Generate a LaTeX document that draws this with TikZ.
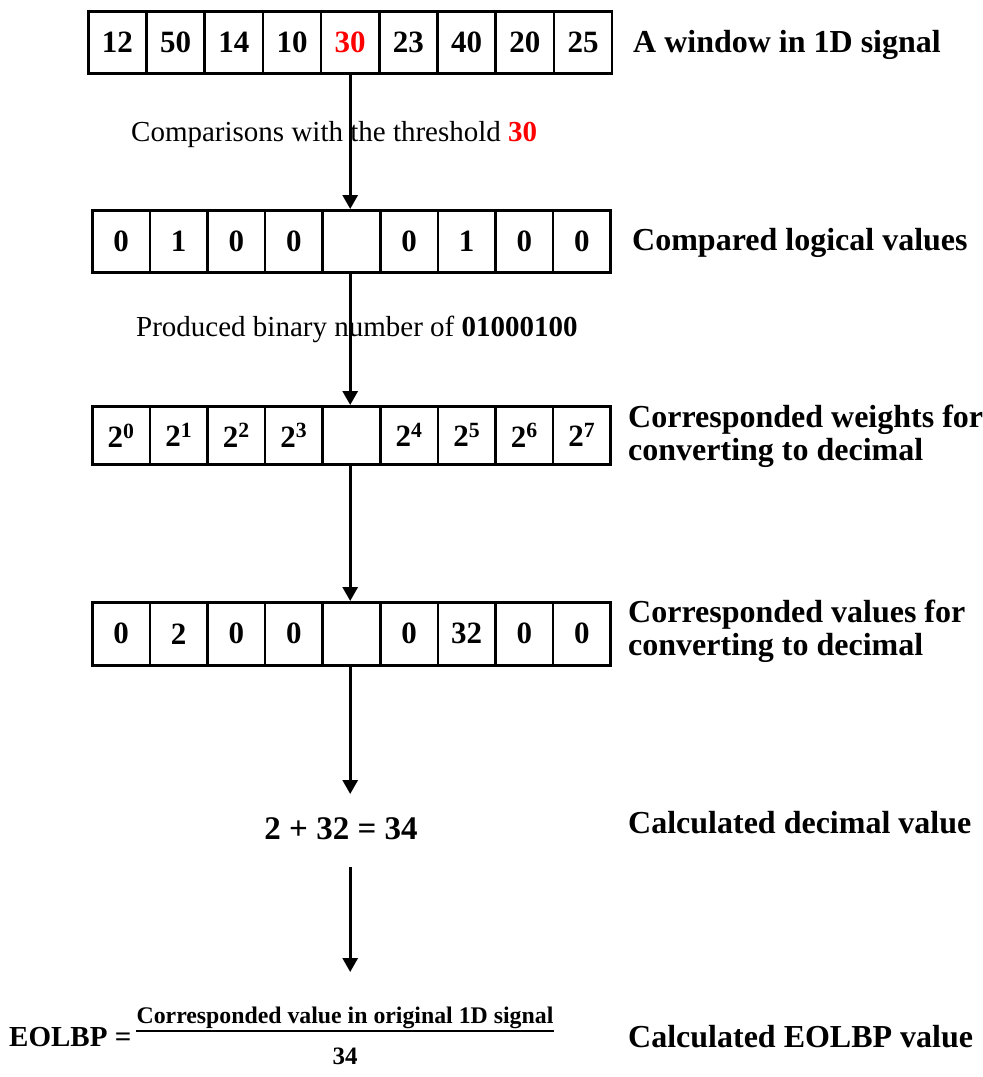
\documentclass[tikz,border=0pt]{standalone}
\usepackage{fontspec}
\setmainfont{Liberation Serif}
\usetikzlibrary{arrows.meta}
\definecolor{tred}{RGB}{255,0,0}
\begin{document}
\begin{tikzpicture}[x=1pt,y=-1pt,
  cell/.style={draw, line width=2.6pt, minimum width=58.2pt, minimum height=62pt, inner sep=0pt, anchor=north west, font=\fontsize{31}{36}\selectfont\bfseries},
  flow/.style={line width=3pt, -{Triangle[width=15pt,length=14pt]}},
  lab/.style={anchor=west, inner sep=0pt, align=left, font=\fontsize{32}{33}\selectfont\bfseries},
  mid/.style={anchor=west, inner sep=0pt, font=\fontsize{29}{34}\selectfont}]
\useasboundingbox (0,0) rectangle (983,1077);
% row 1
\foreach \v [count=\i] in {12,50,14,10,{\textcolor{tred}{30}},23,40,20,25}
  \node[cell] (a\i) at ({87+(\i-1)*58.2},10) {\v};
% row 2
\foreach \v [count=\i] in {0,1,0,0,{},0,1,0,0}
  \node[cell, minimum width=57.6pt] (b\i) at ({91+(\i-1)*57.6},209) {\v};
% row 3
\foreach \v [count=\i] in {2\textsuperscript{0},2\textsuperscript{1},2\textsuperscript{2},2\textsuperscript{3},{},2\textsuperscript{4},2\textsuperscript{5},2\textsuperscript{6},2\textsuperscript{7}}
  \node[cell, minimum width=57.6pt, minimum height=58pt] (c\i) at ({91+(\i-1)*57.6},405) {\v};
% row 4
\foreach \v [count=\i] in {0,2,0,0,{},0,32,0,0}
  \node[cell, minimum width=57.6pt, minimum height=63pt] (d\i) at ({91+(\i-1)*57.6},601) {\v};

% labels
\node[lab] (la) at (633,45) {A window in 1D signal};
\node[lab] (lb) at (632,243) {Compared logical values};
\node[lab] (lc) at (628,436) {Corresponded weights for\\converting to decimal};
\node[lab] (ld) at (628,631) {Corresponded values for\\converting to decimal};
\node[lab] (le) at (628,823) {Calculated decimal value};
\node[lab] (lf) at (628,1037) {Calculated EOLBP value};

% middle texts
\node[mid] (t1) at (131,135) {Comparisons with the threshold \textbf{\textcolor{tred}{30}}};
\node[mid] (t2) at (136,329) {Produced binary number of \textbf{01000100}};

% sum
\node[font=\fontsize{33}{36}\selectfont\bfseries, inner sep=2pt] (sum) at (341,829) {2 + 32 = 34};
\coordinate (s1) at (349,794);
\coordinate (s2) at (349,867);
\coordinate (s3) at (349,972);

% formula
\node[anchor=west, inner sep=0pt, font=\fontsize{29}{34}\selectfont\bfseries] (eq) at (9,1037) {EOLBP =};
\node[inner xsep=0pt, inner ysep=2pt, font=\fontsize{23.8}{26}\selectfont\bfseries] (num) at (345,1018) {Corresponded value in original 1D signal};
\draw[line width=1.2pt] (num.south west) -- (num.south east);
\node[font=\fontsize{25}{26}\selectfont\bfseries, inner sep=0pt] (den) at (345,1056) {34};

% arrows
\draw[flow] (a5.south) -- (a5.south |- b5.north);
\draw[flow] (a5.south |- b5.south) -- (a5.south |- c5.north);
\draw[flow] (a5.south |- c5.south) -- (a5.south |- d5.north);
\draw[flow] (a5.south |- d5.south) -- (a5.south |- s1);
\draw[flow] (a5.south |- s2) -- (a5.south |- s3);
\end{tikzpicture}
\end{document}
